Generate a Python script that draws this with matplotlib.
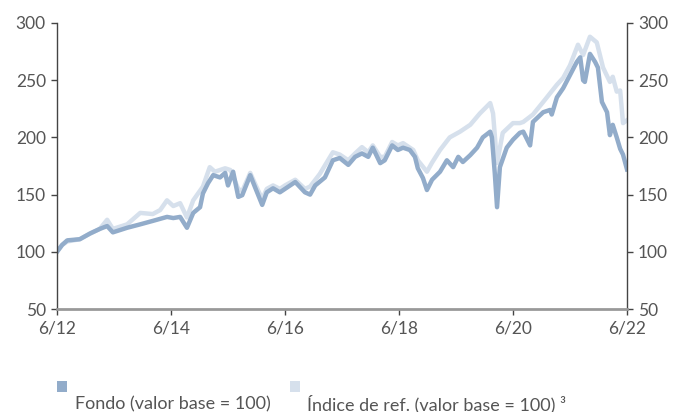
import matplotlib
matplotlib.use("Agg")
import matplotlib.pyplot as plt
from matplotlib.patches import Rectangle

plt.rcParams['font.family'] = ['Lato', 'DejaVu Sans']

# Fund (decimal year, value)
fund_t = [2012.50, 2012.59, 2012.68, 2012.90, 2013.08, 2013.25, 2013.38, 2013.48, 2013.73, 2013.96,
          2014.18, 2014.43, 2014.54, 2014.66, 2014.78, 2014.89, 2015.01, 2015.06, 2015.15, 2015.24,
          2015.36, 2015.45, 2015.50, 2015.59, 2015.68, 2015.75, 2015.89, 2015.97, 2016.10, 2016.18,
          2016.29, 2016.41, 2016.50, 2016.59, 2016.68, 2016.85, 2016.94, 2017.03, 2017.20, 2017.34,
          2017.46, 2017.61, 2017.73, 2017.85, 2017.96, 2018.04, 2018.17, 2018.25, 2018.38, 2018.48,
          2018.57, 2018.69, 2018.78, 2018.83, 2018.92, 2018.99, 2019.08, 2019.22, 2019.34, 2019.45,
          2019.54, 2019.62, 2019.75, 2019.87, 2019.97, 2020.10, 2020.13, 2020.18, 2020.22, 2020.27,
          2020.39, 2020.50, 2020.62, 2020.68, 2020.80, 2020.85, 2021.03, 2021.15, 2021.18, 2021.27,
          2021.38, 2021.50, 2021.62, 2021.68, 2021.73, 2021.76, 2021.85, 2021.94, 2021.99, 2022.06,
          2022.15, 2022.20, 2022.25, 2022.32, 2022.38, 2022.43, 2022.50]
fund_v = [100, 106, 110, 111, 116, 120, 122.5, 117, 121, 124,
          127, 130.5, 129.5, 130.5, 121, 134, 139, 151, 160, 167,
          165, 169, 158, 170, 148, 149.5, 167, 157, 141, 152,
          155.5, 152, 155, 158, 161, 152, 150, 158, 165, 180,
          182, 176, 183, 186, 183, 191, 177.5, 180, 193, 189,
          191, 189, 183, 173, 164.5, 154, 163, 170, 180, 174,
          183, 178.5, 184.5, 191, 200, 205, 200, 169, 139, 174,
          191, 198, 204, 205, 193, 213.5, 222, 224, 220, 235,
          243, 254.5, 266, 270, 250, 248.5, 273, 266, 261, 231,
          222, 202, 211, 200, 190, 185, 172]

# Benchmark index (decimal year, value)
idx_t = [2012.50, 2012.59, 2012.68, 2012.90, 2013.08, 2013.25, 2013.38, 2013.48, 2013.73, 2013.96,
         2014.18, 2014.31, 2014.43, 2014.54, 2014.66, 2014.78, 2014.89, 2015.06, 2015.18, 2015.27,
         2015.36, 2015.45, 2015.54, 2015.68, 2015.75, 2015.89, 2015.97, 2016.10, 2016.18, 2016.29,
         2016.41, 2016.50, 2016.68, 2016.85, 2016.94, 2017.11, 2017.34, 2017.46, 2017.61, 2017.73,
         2017.85, 2017.96, 2018.04, 2018.17, 2018.25, 2018.38, 2018.48, 2018.57, 2018.75, 2018.83,
         2018.99, 2019.08, 2019.22, 2019.39, 2019.57, 2019.75, 2019.92, 2020.10, 2020.15, 2020.22,
         2020.32, 2020.50, 2020.62, 2020.68, 2020.85, 2021.03, 2021.27, 2021.38, 2021.50, 2021.64,
         2021.73, 2021.85, 2021.97, 2022.08, 2022.20, 2022.25, 2022.32, 2022.38, 2022.43, 2022.50]
idx_v = [100, 106, 109, 111, 116, 120, 128, 120, 124, 134,
         133, 136.5, 145, 140, 142.5, 130, 145, 157, 174, 170,
         171.5, 173, 171.5, 155, 153, 169, 160, 146, 155, 158,
         155, 158, 163, 155, 157, 168, 187, 185, 180, 186,
         191.5, 187, 193, 183, 183, 196, 193, 195, 189, 180,
         170, 178, 189, 200, 205, 211, 221, 230, 221, 177.5,
         204, 212.5, 212.5, 213.5, 220, 231, 246, 252, 263, 281,
         272, 288, 283, 261, 248.5, 253, 240, 241, 212.5, 215]

xtick_pos = [2012.5, 2014.5, 2016.5, 2018.5, 2020.5, 2022.5]
xtick_lab = ['6/12', '6/14', '6/16', '6/18', '6/20', '6/22']
ytick_pos = [50, 100, 150, 200, 250, 300]

fund_color = '#92ACCA'
idx_color = '#D6E0EC'
text_color = '#555555'

fig = plt.figure(figsize=(6.73, 4.12), dpi=100)
ax = fig.add_axes([57/673, 1-309/412, 570/673, 286/412])
ax.plot(idx_t, idx_v, color=idx_color, lw=3.2, solid_joinstyle='round')
ax.plot(fund_t, fund_v, color=fund_color, lw=3.2, solid_joinstyle='round')

ax.set_xlim(2012.5, 2022.5)
ax.set_ylim(50, 300)
ax.set_xticks(xtick_pos)
ax.set_xticklabels(xtick_lab)
ax.set_yticks(ytick_pos)
ax.tick_params(axis='y', which='both', left=True, right=True, labelleft=True, labelright=True,
               direction='out', length=4, width=1, color='#444444', labelcolor=text_color,
               labelsize=12.5, pad=4)
ax.tick_params(axis='x', direction='out', length=4, width=1, color='#444444',
               labelcolor=text_color, labelsize=12.5, pad=4)
ax.spines['top'].set_visible(False)
ax.spines['left'].set_color('#444444')
ax.spines['right'].set_color('#444444')
ax.spines['left'].set_linewidth(1)
ax.spines['right'].set_linewidth(1)
ax.spines['bottom'].set_color('#999999')
ax.spines['bottom'].set_linewidth(2)

# Legend
fig.patches.append(Rectangle((57/673, 1-392/412), 10/673, 11/412, transform=fig.transFigure,
                             facecolor=fund_color, edgecolor='none'))
fig.text(75/673, 1-404/412, 'Fondo (valor base = 100)', color=text_color, fontsize=13,
         va='center', ha='left')
fig.patches.append(Rectangle((290/673, 1-392/412), 10/673, 11/412, transform=fig.transFigure,
                             facecolor=idx_color, edgecolor='none'))
fig.text(307/673, 1-404/412, 'Índice de ref. (valor base = 100) ³', color=text_color, fontsize=13,
         va='center', ha='left')

fig.savefig('out.png', dpi=100)
